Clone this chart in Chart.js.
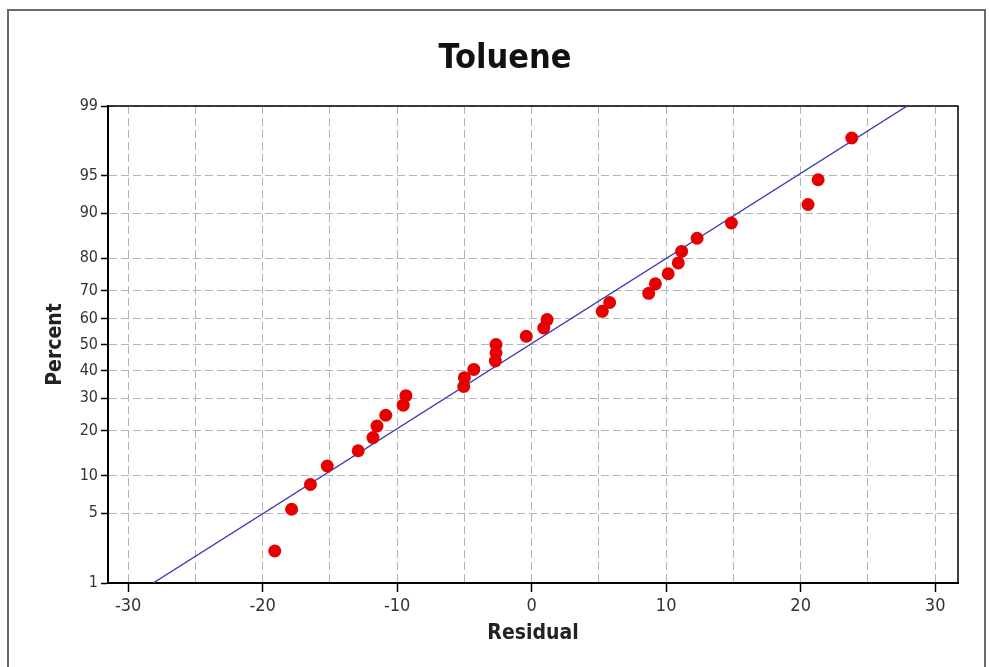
<!DOCTYPE html>
<html>
<head>
<meta charset="utf-8">
<title>Toluene</title>
<script src="https://cdn.jsdelivr.net/npm/chart.js@4.4.1/dist/chart.umd.min.js"></script>
<style>
  html, body { margin: 0; padding: 0; background: #ffffff; }
  #wrap { width: 990px; height: 667px; position: relative; }
  canvas { display: block; }
</style>
</head>
<body>
<div id="wrap"><canvas id="chart" width="990" height="667"></canvas></div>
<script>
// Residuals of the Toluene model, in ascending order
const residuals = [-19.1, -17.85, -16.45, -15.2, -12.9, -11.8, -11.5, -10.85, -9.55, -9.35,
                   -5.05, -5.0, -4.3, -2.7, -2.65, -2.65, -0.4, 0.9, 1.15, 5.25,
                   5.8, 8.7, 9.2, 10.15, 10.9, 11.15, 12.3, 14.85, 20.55, 21.3, 23.8];
// Cumulative percent assigned to each residual
const percents = [2.2, 5.4, 8.6, 11.8, 15.0, 18.2, 21.3, 24.5, 27.7, 30.9,
                  34.1, 37.3, 40.4, 43.6, 46.8, 50.0, 53.2, 56.4, 59.6, 62.7,
                  65.9, 69.1, 72.3, 75.5, 78.7, 81.8, 85.0, 88.2, 91.4, 94.6, 97.8];
// Axis tick labels
const percentTicks = [1, 5, 10, 20, 30, 40, 50, 60, 70, 80, 90, 95, 99];
const residualTicks = [-30, -25, -20, -15, -10, -5, 0, 5, 10, 15, 20, 25, 30];
// Reference normal line
const fitMean = -0.11;
const fitSd = 12.05;
const fitPercents = [1, 99];

// Inverse of the standard normal CDF (Acklam's rational approximation)
function probit(p) {
  const a = [-3.969683028665376e+01, 2.209460984245205e+02, -2.759285104469687e+02,
             1.383577518672690e+02, -3.066479806614716e+01, 2.506628277459239e+00];
  const b = [-5.447609879822406e+01, 1.615858368580409e+02, -1.556989798598866e+02,
             6.680131188771972e+01, -1.328068155288572e+01];
  const c = [-7.784894002430293e-03, -3.223964580411365e-01, -2.400758277161838e+00,
             -2.549732539343734e+00, 4.374664141464968e+00, 2.938163982698783e+00];
  const d = [7.784695709041462e-03, 3.224671290700398e-01, 2.445134137142996e+00,
             3.754408661907416e+00];
  const pl = 0.02425, ph = 1 - pl;
  let q, r;
  if (p < pl) {
    q = Math.sqrt(-2 * Math.log(p));
    return (((((c[0]*q + c[1])*q + c[2])*q + c[3])*q + c[4])*q + c[5]) /
           ((((d[0]*q + d[1])*q + d[2])*q + d[3])*q + 1);
  }
  if (p > ph) {
    q = Math.sqrt(-2 * Math.log(1 - p));
    return -(((((c[0]*q + c[1])*q + c[2])*q + c[3])*q + c[4])*q + c[5]) /
            ((((d[0]*q + d[1])*q + d[2])*q + d[3])*q + 1);
  }
  q = p - 0.5; r = q * q;
  return (((((a[0]*r + a[1])*r + a[2])*r + a[3])*r + a[4])*r + a[5]) * q /
         (((((b[0]*r + b[1])*r + b[2])*r + b[3])*r + b[4])*r + 1);
}

const pointData = residuals.map((x, i) => ({ x: x, y: probit(percents[i] / 100) }));
const fitData = fitPercents.map(p => {
  const z = probit(p / 100);
  return { x: fitMean + fitSd * z, y: z };
});

// Outer frame and the top/right edges of the plot box
const framePlugin = {
  id: 'frame',
  beforeDraw(chart) {
    const ctx = chart.ctx;
    ctx.save();
    ctx.fillStyle = '#ffffff';
    ctx.fillRect(0, 0, chart.width, chart.height);
    ctx.strokeStyle = '#6a6a6a';
    ctx.lineWidth = 2;
    ctx.strokeRect(8, 10, 977, 690);
    ctx.restore();
  },
  beforeDatasetsDraw(chart) {
    const { ctx, chartArea: a } = chart;
    ctx.save();
    ctx.strokeStyle = '#000000';
    ctx.lineWidth = 1.5;
    ctx.beginPath();
    ctx.moveTo(a.left, a.top);
    ctx.lineTo(a.right, a.top);
    ctx.lineTo(a.right, a.bottom);
    ctx.stroke();
    ctx.restore();
  }
};

const tickFamily = '"DejaVu Sans Condensed", "DejaVu Sans", sans-serif';
const labelFont = { family: tickFamily, size: 21, weight: 'bold' };

new Chart(document.getElementById('chart'), {
  type: 'scatter',
  data: {
    datasets: [
      {
        label: 'Residual',
        data: pointData,
        backgroundColor: '#e60000',
        borderColor: '#e60000',
        borderWidth: 0,
        pointRadius: 6.5,
        pointHoverRadius: 6.5
      },
      {
        label: 'Fit',
        type: 'line',
        data: fitData,
        borderColor: '#3a3ab8',
        borderWidth: 1.4,
        pointRadius: 0,
        fill: false,
        tension: 0
      }
    ]
  },
  options: {
    responsive: false,
    animation: false,
    devicePixelRatio: 1,
    layout: { padding: { left: 52, right: 32, top: 0, bottom: 0 } },
    plugins: {
      legend: { display: false },
      tooltip: { enabled: false },
      title: {
        display: true,
        text: 'Toluene',
        color: '#111111',
        font: { family: '"Liberation Sans Narrow", "DejaVu Sans Condensed", sans-serif', size: 34, weight: 'bold' },
        padding: { top: 39, bottom: 26.2 }
      }
    },
    scales: {
      x: {
        type: 'linear',
        min: -31.5,
        max: 31.7,
        afterBuildTicks(scale) { scale.ticks = residualTicks.map(v => ({ value: v })); },
        afterFit(scale) { scale.height = 84; },
        ticks: {
          autoSkip: false,
          maxRotation: 0,
          color: '#333333',
          font: { family: tickFamily, size: 18 },
          padding: 4,
          callback: v => (v % 10 === 0 ? String(v) : '')
        },
        grid: {
          color: '#b4b4b4',
          lineWidth: 1,
          drawTicks: true,
          tickLength: 9,
          tickWidth: 1.5,
          tickColor: ctx => (ctx.tick && ctx.tick.value % 10 === 0 ? '#000000' : 'rgba(0,0,0,0)')
        },
        border: { display: true, color: '#000000', width: 2, dash: [8, 4] },
        title: {
          display: true,
          text: 'Residual',
          color: '#222222',
          font: labelFont,
          padding: { top: 0, bottom: 21 }
        }
      },
      y: {
        type: 'linear',
        min: probit(0.01),
        max: probit(0.99),
        afterBuildTicks(scale) { scale.ticks = percentTicks.map(p => ({ value: probit(p / 100) })); },
        afterFit(scale) { scale.width = 56; },
        ticks: {
          autoSkip: false,
          color: '#333333',
          font: { family: tickFamily, size: 16 },
          padding: 3,
          callback: (v, i) => String(percentTicks[i])
        },
        grid: {
          color: '#b4b4b4',
          lineWidth: 1,
          drawTicks: true,
          tickLength: 7,
          tickWidth: 1.5,
          tickColor: '#000000'
        },
        border: { display: true, color: '#000000', width: 2, dash: [8, 4] },
        title: {
          display: true,
          text: 'Percent',
          color: '#222222',
          font: labelFont,
          padding: { top: -9.5, bottom: 0 }
        }
      }
    }
  },
  plugins: [framePlugin]
});
</script>
</body>
</html>
